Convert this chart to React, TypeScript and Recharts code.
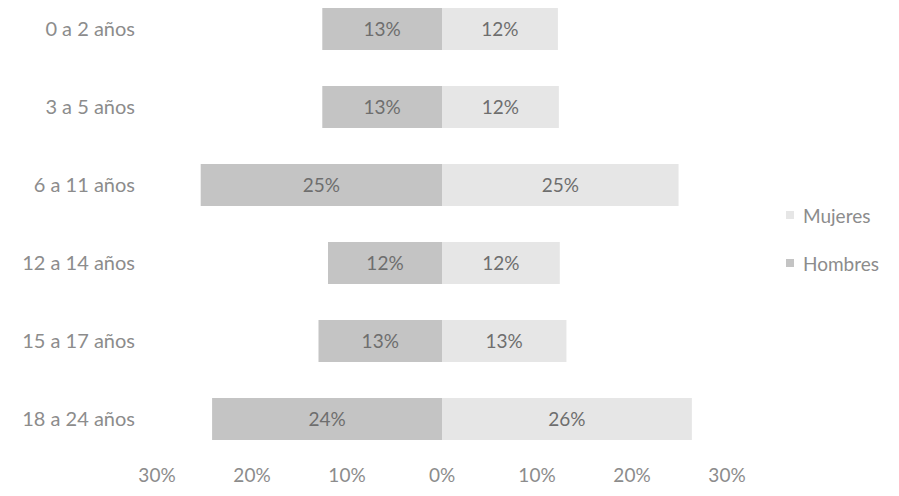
import React from 'react';
import { BarChart, Bar, XAxis, YAxis, LabelList } from 'recharts';

const categories = ['0 a 2 años', '3 a 5 años', '6 a 11 años', '12 a 14 años', '15 a 17 años', '18 a 24 años'];
const hombres = [-12.6, -12.6, -25.4, -12.0, -13.0, -24.2];
const mujeres = [12.2, 12.3, 24.9, 12.4, 13.1, 26.3];
const xTicks = [-30, -20, -10, 0, 10, 20, 30];
const legendItems = [
  { name: 'Mujeres', color: '#e6e6e6' },
  { name: 'Hombres', color: '#c4c4c4' },
];

const data = categories.map((c, i) => ({ cat: c, Hombres: hombres[i], Mujeres: mujeres[i] }));

const FONT = 'Lato, "Open Sans", sans-serif';
const fmt = (v: any) => `${Math.round(Math.abs(Number(v)))}%`;

export default function App() {
  return (
    <div style={{ position: 'absolute', left: 0, top: -10, width: 899, height: 506, background: '#fff' }}>
      <BarChart
        width={899}
        height={506}
        data={data}
        layout="vertical"
        stackOffset="sign"
        margin={{ top: 0, right: 172, bottom: 8, left: 0 }}
      >
        <XAxis
          type="number"
          domain={[-30, 30]}
          ticks={xTicks}
          tickFormatter={fmt}
          axisLine={false}
          tickLine={false}
          tickSize={0}
          tickMargin={11}
          height={30}
          interval={0}
          tick={{ fill: '#8c8c8c', fontSize: 19, fontFamily: FONT }}
        />
        <YAxis
          type="category"
          dataKey="cat"
          width={157}
          axisLine={false}
          tickLine={false}
          tickSize={0}
          tickMargin={22}
          interval={0}
          tick={{ fill: '#8c8c8c', fontSize: 20, fontFamily: FONT }}
        />
        <Bar dataKey="Mujeres" stackId="a" fill="#e6e6e6" barSize={42} isAnimationActive={false}>
          <LabelList dataKey="Mujeres" position="center" formatter={fmt} fill="#6e6e6e" fontSize={19} fontFamily={FONT} />
        </Bar>
        <Bar dataKey="Hombres" stackId="a" fill="#c4c4c4" barSize={42} isAnimationActive={false}>
          <LabelList dataKey="Hombres" position="center" formatter={fmt} fill="#6e6e6e" fontSize={19} fontFamily={FONT} />
        </Bar>
      </BarChart>
      <div style={{ position: 'absolute', top: 201, left: 786, width: 110, fontFamily: FONT }}>
        {legendItems.map((it) => (
          <div key={it.name} style={{ height: 48, display: 'flex', alignItems: 'center', color: '#8c8c8c', fontSize: 19 }}>
            <span style={{ display: 'inline-block', width: 8, height: 8, background: it.color, marginRight: 9 }} />
            {it.name}
          </div>
        ))}
      </div>
    </div>
  );
}
